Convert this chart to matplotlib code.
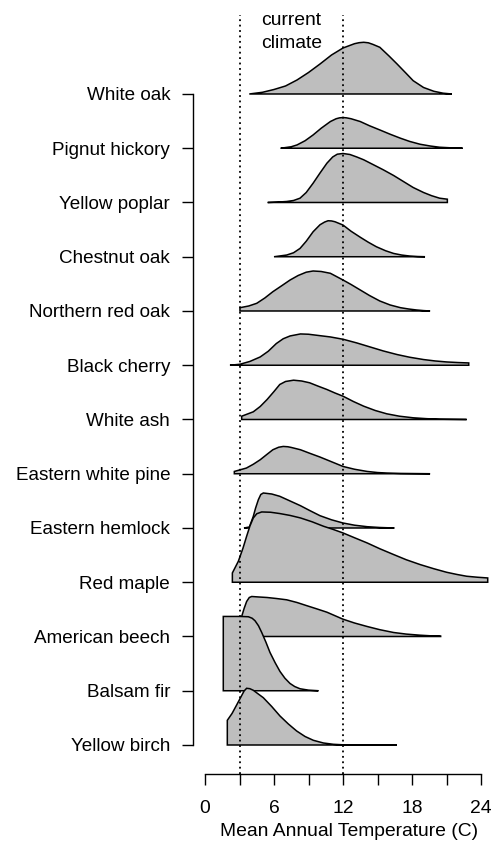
import matplotlib
matplotlib.use("Agg")
import matplotlib.pyplot as plt
import numpy as np

# species, top to bottom
species = ["White oak", "Pignut hickory", "Yellow poplar", "Chestnut oak",
           "Northern red oak", "Black cherry", "White ash", "Eastern white pine",
           "Eastern hemlock", "Red maple", "American beech", "Balsam fir",
           "Yellow birch"]

# density curves (temperature in C, relative density)
white_oak_t = [3.85, 5.0, 6.0, 7.0, 8.0, 9.0, 10.0, 11.0, 12.0, 13.0, 13.4, 13.8,
               14.2, 14.6, 15.2, 16.0, 16.7, 17.5, 18.1, 19.0, 19.9, 20.7, 21.45]
white_oak_d = [0, 1.7, 4.5, 8, 14, 21.5, 30, 39, 46, 50.3, 51.3, 51.7,
               51.2, 49.6, 46.7, 38, 30, 20.5, 13.3, 6.5, 2.7, 0.8, 0]

pignut_t = [6.58, 7.5, 8.0, 8.7, 9.4, 10.1, 10.9, 11.4, 11.7, 12.0, 12.3, 12.7,
            13.5, 14.3, 15.2, 16.1, 17.0, 17.8, 18.7, 19.6, 20.4, 21.4, 22.4]
pignut_d = [0, 1.5, 3.3, 7.5, 13.3, 20, 26.7, 29.5, 30.4, 30.7, 30.4, 29.5,
            26.7, 22.5, 18.3, 14, 10, 6.8, 4, 2.2, 1, 0.4, 0]

poplar_t = [5.45, 6.3, 7.1, 7.7, 8.26, 8.8, 9.4, 10.0, 10.6, 11.1, 11.5, 12.0,
            12.6, 13.2, 13.8, 14.6, 15.5, 16.4, 17.25, 18.1, 19.0, 19.7, 20.4,
            21.07, 21.07]
poplar_d = [0, 0.4, 1, 2, 4.3, 10, 19.3, 29.5, 39.3, 45.5, 48.3, 49,
            48, 45.5, 42.7, 38, 32.7, 27, 21, 15, 10, 6.8, 4.3, 3.3, 0]

chestnut_t = [6.0, 7.1, 7.7, 8.26, 8.8, 9.4, 10.0, 10.4, 10.7, 11.0, 11.3, 12.0,
              12.7, 13.5, 14.2, 14.9, 15.7, 16.4, 17.1, 17.8, 18.5, 19.13]
chestnut_d = [0, 1.7, 4, 8.3, 15.5, 25, 32, 34.7, 36, 35.8, 35, 31.7,
              25.5, 19.5, 14.5, 10, 6, 3.3, 1.7, 0.7, 0.2, 0]

red_oak_t = [3.04, 3.04, 3.8, 4.5, 5.2, 5.9, 6.7, 7.4, 8.1, 8.8, 9.4, 10.1, 10.9,
             12.0, 12.7, 13.5, 14.3, 15.2, 16.1, 17.0, 17.7, 18.4, 19.0, 19.57]
red_oak_d = [0, 3.3, 5, 7.7, 13, 19.3, 25.5, 31, 35.5, 38.8, 40, 39.5, 37.7,
             31, 26.5, 21, 15.5, 10, 6, 3.3, 2, 1, 0.4, 0]

cherry_t = [2.17, 3.04, 3.9, 4.8, 5.5, 6.2, 6.8, 7.4, 8.3, 9.0, 9.7, 10.9, 12.0,
            13.2, 14.35, 15.5, 16.7, 17.8, 19.0, 20.0, 21.0, 22.0, 22.93, 22.93]
cherry_d = [0, 1, 3.8, 8.3, 14, 21.7, 26.5, 29.3, 31.3, 31, 30, 28.3, 26,
            22.3, 18.3, 14.3, 10.7, 8, 5.7, 4.3, 3.3, 2.7, 2.3, 0]

ash_t = [3.19, 3.19, 4.2, 4.8, 5.4, 6.0, 6.5, 7.0, 7.7, 8.4, 9.1, 9.8, 10.6, 11.3,
         12.0, 12.9, 13.8, 14.8, 15.8, 16.9, 18.1, 19.3, 20.4, 22.75]
ash_d = [0, 3.3, 7.7, 13, 20, 28, 35, 38, 39.3, 38.5, 36.7, 33.5, 30, 26.5,
         23.3, 18, 13.3, 9, 5.7, 3.3, 1.7, 0.8, 0.3, 0]

pine_t = [2.55, 2.55, 3.6, 4.2, 4.8, 5.4, 5.9, 6.4, 6.8, 7.2, 7.5, 8.3, 9.1, 10.0,
          11.0, 12.0, 13.0, 14.1, 15.0, 15.8, 17.0, 19.57]
pine_d = [0, 2.3, 5.7, 9.5, 14, 19.5, 24, 26.5, 27.3, 27.0, 26.3, 24, 20.5, 16.7,
          12, 7.3, 4.5, 2.3, 1.2, 0.7, 0.3, 0]

hemlock_t = [3.39, 3.86, 4.2, 4.4, 4.64, 4.85, 5.07, 5.8, 6.5, 7.4, 8.3, 9.1,
             10.0, 11.0, 12.0, 13.0, 14.1, 15.2, 16.46]
hemlock_d = [0, 1, 11.7, 20, 28.3, 33.5, 35, 34, 31.7, 27, 22.3, 17.5,
             12.3, 8.2, 5, 2.8, 1.3, 0.5, 0]

red_maple_t = [2.38, 2.38, 2.9, 3.3, 3.62, 3.9, 4.2, 4.5, 4.93, 5.7, 6.5, 7.4,
               8.3, 9.3, 10.3, 11.1, 12.0, 13.0, 14.1, 15.2, 16.4, 17.5, 18.7,
               19.9, 21.0, 21.9, 22.75, 23.7, 24.58, 24.58]
red_maple_d = [0, 9.3, 21, 34, 46, 56, 64.3, 68.5, 70.3, 70, 68.7, 66.8,
               64.3, 60.5, 56, 53, 49.3, 44.5, 39.3, 33.5, 27.7, 22.5, 17.7,
               13.5, 10, 7.8, 6, 5, 4.3, 0]

beech_t = [2.75, 2.75, 3.19, 3.4, 3.62, 3.85, 4.06, 4.7, 5.4, 6.2, 7.1, 8.0, 8.8,
           9.7, 10.6, 11.3, 12.0, 13.0, 14.1, 15.2, 16.4, 17.5, 18.7, 19.6,
           20.49, 20.49]
beech_d = [0, 12, 20, 28, 35, 39, 40, 39.5, 39, 38, 36.7, 34, 31,
           27.7, 24.3, 20.8, 17.3, 13.5, 10, 6.8, 4, 2.4, 1.3, 0.7, 0.4, 0]

fir_t = [1.59, 1.59, 3.04, 3.77, 4.1, 4.35, 4.65, 4.93, 5.3, 5.65, 6.1, 6.52,
         6.95, 7.39, 7.8, 8.26, 9.0, 9.86]
fir_d = [0, 74.3, 74.3, 74, 72.5, 70, 65, 58.3, 48.5, 38.3, 28, 19.3,
         12.5, 7.3, 4.2, 2, 0.6, 0]

birch_t = [1.94, 1.94, 2.35, 2.75, 3.19, 3.4, 3.62, 3.9, 4.2, 5.07, 5.8, 6.52,
           7.25, 7.97, 8.7, 9.42, 10.3, 11.16, 12.0, 12.75, 16.67]
birch_d = [0, 24.7, 31.5, 40, 49.5, 54, 56.7, 56.3, 54.7, 47.3, 38.5, 29,
           21, 14, 8.5, 4.7, 2, 0.7, 0.2, 0, 0]

temps = [white_oak_t, pignut_t, poplar_t, chestnut_t, red_oak_t, cherry_t, ash_t,
         pine_t, hemlock_t, red_maple_t, beech_t, fir_t, birch_t]
dens = [white_oak_d, pignut_d, poplar_d, chestnut_d, red_oak_d, cherry_d, ash_d,
        pine_d, hemlock_d, red_maple_d, beech_d, fir_d, birch_d]

climate_range = [3, 12]
x_ticks = [0, 6, 12, 18, 24]
x_minor = [3, 9, 15, 21]

plt.rcParams['font.family'] = ['Liberation Sans', 'DejaVu Sans']
fs = 13.9
scale = 1 / 54.25

fig = plt.figure(figsize=(4.96, 8.44), dpi=100)
ax = fig.add_axes([193 / 496, 70 / 844, 313 / 496, 759 / 844])

n = len(species)
for i, (name, t, d) in enumerate(zip(species, temps, dens)):
    base = n - 1 - i
    ax.fill(t, base + np.array(d) * scale, facecolor='#bebebe',
            edgecolor='black', lw=1.1, zorder=2 + i)

for c in climate_range:
    ax.axvline(c, color='black', ls=(0, (1, 2)), lw=1.3, zorder=50)

ax.text(7.5, (745 - 25) * scale, "current", ha='center', va='baseline', fontsize=fs)
ax.text(7.5, (745 - 48) * scale, "climate", ha='center', va='baseline', fontsize=fs)

ax.set_xlim(-1.043, 26.17)
ax.set_ylim(-0.5346, 13.456)

for s in ['top', 'right']:
    ax.spines[s].set_visible(False)
ax.spines['bottom'].set_bounds(0, 24)
ax.spines['left'].set_bounds(0, n - 1)
ax.spines['bottom'].set_linewidth(1.0)
ax.spines['left'].set_linewidth(1.0)

ax.set_xticks(x_ticks)
ax.set_xticks(x_minor, minor=True)
ax.tick_params(axis='x', which='both', length=7.9, width=1.0, pad=10.5,
               labelsize=fs)
ax.set_yticks(range(n))
ax.set_yticklabels(species[::-1])
ax.tick_params(axis='y', length=7.9, width=1.0, pad=8.5, labelsize=13.6)
ax.set_xlabel("Mean Annual Temperature (C)", fontsize=fs, labelpad=5)

fig.savefig("out.png", dpi=100)
